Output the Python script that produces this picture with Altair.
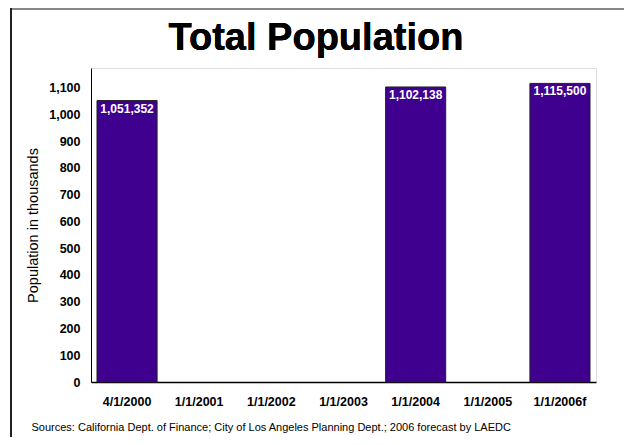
import altair as alt
import pandas as pd

categories = ["4/1/2000", "1/1/2001", "1/1/2002", "1/1/2003", "1/1/2004", "1/1/2005", "1/1/2006f"]
population = [1051352, None, None, None, 1102138, None, 1115500]
y_ticks = [0, 100, 200, 300, 400, 500, 600, 700, 800, 900, 1000, 1100]
title_text = "Total Population"
source_text = "Sources: California Dept. of Finance; City of Los Angeles Planning Dept.; 2006 forecast by LAEDC"

df = pd.DataFrame({"date": categories, "pop": population})
df = df.dropna()
df["thousands"] = df["pop"] / 1000.0

FONT = "Liberation Sans"

x_enc = alt.X(
    "date:N",
    sort=categories,
    scale=alt.Scale(domain=categories, paddingInner=0.167, paddingOuter=0.083),
    axis=alt.Axis(
        labelAngle=0, labelFont=FONT, labelFontSize=12.5, labelFontWeight="bold",
        labelColor="#000", labelPadding=13, ticks=False, domainColor="#000",
        domainWidth=1.5,
        title=source_text,
        titleFont=FONT, titleFontSize=11, titleFontWeight="normal", titleColor="#000",
        titleAnchor="start", titleAlign="left", titleX=-60, titleY=48, titleBaseline="alphabetic",
    ),
)
y_enc = alt.Y(
    "thousands:Q",
    scale=alt.Scale(domain=[0, 1173], nice=False),
    axis=alt.Axis(
        values=y_ticks, format=",.0f", labelFont=FONT, labelFontSize=12.5, labelFontWeight="bold",
        labelColor="#000", labelPadding=11, ticks=False, grid=False, domainColor="#000",
        domainWidth=1,
        title="Population in thousands", titleFont=FONT, titleFontSize=14.5,
        titleFontWeight="normal", titleColor="#000", titleX=-58, titleY=157,
        titleAngle=270, titleAlign="center", titleBaseline="middle",
    ),
)

bars = alt.Chart(df).mark_bar(color="#3f0090", stroke="#222", strokeWidth=1).encode(x=x_enc, y=y_enc)
labels = alt.Chart(df).mark_text(
    color="white", font=FONT, fontSize=12, fontWeight="bold", baseline="top", dy=3
).encode(x=x_enc, y=y_enc, text=alt.Text("pop:Q", format=","))

title = alt.Chart(df).mark_text(
    text=title_text, font=FONT, fontSize=38, fontWeight="bold", color="#000",
    align="center", baseline="alphabetic"
).encode(x=alt.value(225), y=alt.value(-18))

frame_top = alt.Chart(df).mark_rule(color="#888", strokeWidth=2).encode(
    x=alt.value(-80), x2=alt.value(560), y=alt.value(-59)
)
frame_left = alt.Chart(df).mark_rule(color="#222", strokeWidth=2).encode(
    x=alt.value(-80), y=alt.value(-60), y2=alt.value(400)
)

chart = alt.layer(bars, labels, title, frame_top, frame_left).properties(
    width=505, height=314,
    autosize=alt.AutoSizeParams(type="none"),
    padding={"left": 83, "top": 60, "right": 28, "bottom": 55},
).configure_view(stroke="#000", strokeWidth=1).configure(background="white")

chart.save("out.html", embed_options={"renderer": "svg", "actions": False})
